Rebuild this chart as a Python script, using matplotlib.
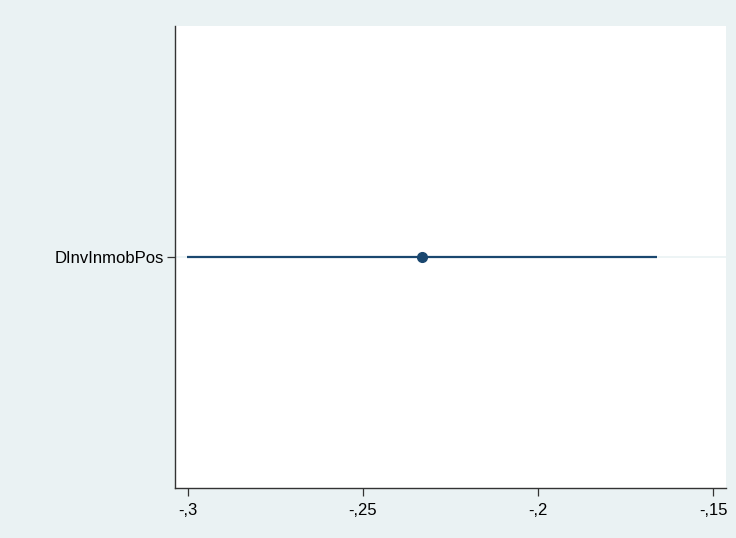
import matplotlib.pyplot as plt

# coefficient and 95% CI
labels = ['DInvInmobPos']
coef = [-0.2331]
ci_low = [-0.3003]
ci_high = [-0.1660]

xticks = [-0.3, -0.25, -0.2, -0.15]
xticklabels = ['-,3', '-,25', '-,2', '-,15']

plt.rcParams['font.family'] = ['Liberation Sans', 'DejaVu Sans']

bg = '#eaf2f3'
navy = '#1a476f'

fig = plt.figure(figsize=(7.36, 5.38), dpi=100, facecolor=bg)
ax = fig.add_axes([0.2378, 0.0929, 0.7486, 0.8588])
ax.set_facecolor('white')

ypos = list(range(1, len(labels) + 1))
for y in ypos:
    ax.axhline(y, color=bg, lw=1.2, zorder=1)
ax.hlines(ypos, ci_low, ci_high, color=navy, lw=1.6, zorder=2)
ax.plot(coef, ypos, 'o', color=navy, ms=7, zorder=3)

ax.set_xlim(-0.30371, -0.14629)
ax.set_ylim(0.5, 1.5)
ax.set_xticks(xticks)
ax.set_xticklabels(xticklabels, fontsize=12)
ax.set_yticks(ypos)
ax.set_yticklabels(labels, fontsize=12)
ax.tick_params(axis='x', length=6, width=0.9, color='#333333', pad=5)
ax.tick_params(axis='y', length=6, width=0.9, color='#333333', pad=2)

for s in ['top', 'right']:
    ax.spines[s].set_visible(False)
for s in ['left', 'bottom']:
    ax.spines[s].set_color('#333333')
    ax.spines[s].set_linewidth(1.0)

fig.savefig('out.png', dpi=100, facecolor=bg)
